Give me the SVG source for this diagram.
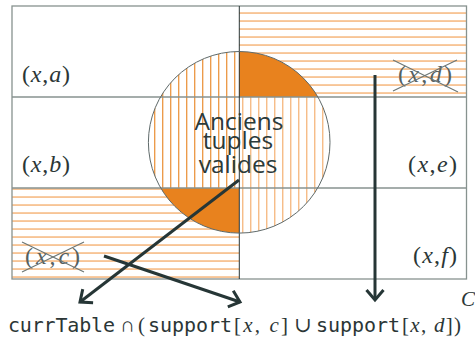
<svg xmlns="http://www.w3.org/2000/svg" width="475" height="338" viewBox="0 0 475 338">
<style>
.cell{fill:#ffffff;stroke:none}
.grid{fill:none;stroke:#87928f;stroke-width:1.3}
.lbl{font-family:"Liberation Serif","DejaVu Serif",serif;font-size:24px;fill:#2b3636}
.lbl .i{font-style:italic}
.gone{fill:#556060}
.cross{stroke:#6d7775;stroke-width:1.2}
.big{font-family:"Open Sans","Noto Sans",sans-serif;font-size:24.5px;fill:#2b3a3a;text-anchor:middle}
.mono{font-family:"DejaVu Sans Mono","Liberation Mono",monospace;font-size:20px;fill:#2b3636}
.math{font-family:"Liberation Serif","DejaVu Serif",serif;font-size:21px;fill:#2b3636}
.math .i{font-style:italic}
.conn{stroke:#263636;stroke-width:3;fill:none;marker-end:url(#arr)}
</style>
<defs>
<pattern id="hh" width="8" height="8" patternUnits="userSpaceOnUse"><rect x="0" y="4.3" width="8" height="1.5" fill="#f5b67c"/></pattern>
<pattern id="vd" width="8" height="8" patternUnits="userSpaceOnUse"><rect x="2.2" y="0" width="1.1" height="8" fill="#e8821e"/></pattern>
<pattern id="vl" width="8" height="8" patternUnits="userSpaceOnUse"><rect x="2.1" y="0" width="1.3" height="8" fill="#f5b67c"/></pattern>
<clipPath id="circ"><circle cx="239.2" cy="142.3" r="90.8"/></clipPath>
<marker id="arr" markerUnits="userSpaceOnUse" markerWidth="24" markerHeight="24" refX="12" refY="12" orient="auto" overflow="visible">
<path d="M2,3.5 L12,12 L2,20.5" fill="none" stroke="#263636" stroke-width="3"/>
</marker>
</defs>

<rect x="0" y="0" width="475" height="338" fill="#ffffff"/>

<g id="cell-a"><rect class="cell" x="12" y="6" width="227" height="91"/></g>
<g id="cell-b"><rect class="cell" x="12" y="97" width="227" height="91"/></g>
<g id="cell-c"><rect class="cell" x="12" y="188" width="227" height="91"/><rect x="12" y="188" width="227" height="91" fill="url(#hh)"/></g>
<g id="cell-d"><rect class="cell" x="239" y="6" width="227" height="91"/><rect x="239" y="6" width="227" height="91" fill="url(#hh)"/></g>
<g id="cell-e"><rect class="cell" x="239" y="97" width="227" height="91"/></g>
<g id="cell-f"><rect class="cell" x="239" y="188" width="227" height="91"/></g>

<g id="circle">
<g clip-path="url(#circ)">
<rect x="148" y="51" width="91" height="183" fill="#ffffff"/>
<rect x="239" y="51" width="92" height="183" fill="#ffffff"/>
<rect x="148" y="51" width="91" height="183" fill="url(#vd)"/>
<rect x="239" y="51" width="92" height="183" fill="url(#vl)"/>
<rect x="239" y="6" width="227" height="91" fill="#e8821e"/>
<rect x="12" y="188" width="227" height="91" fill="#e8821e"/>
</g>
</g>

<g id="grid">
<rect class="grid" x="12" y="6" width="454.5" height="273"/>
<line class="grid" x1="12" y1="97" x2="466.5" y2="97"/>
<line class="grid" x1="12" y1="188" x2="466.5" y2="188"/>
<line x1="239.3" y1="6" x2="239.3" y2="279" stroke="#2b3636" stroke-width="1"/>
<circle cx="239.2" cy="142.3" r="90.8" fill="none" stroke="#5f6a6a" stroke-width="1"/>
</g>

<g id="labels">
<text class="lbl" x="22" y="82" textLength="48"><tspan>(</tspan><tspan class="i">x</tspan><tspan>,</tspan><tspan class="i">a</tspan><tspan>)</tspan></text>
<text class="lbl" x="22" y="172" textLength="48"><tspan>(</tspan><tspan class="i">x</tspan><tspan>,</tspan><tspan class="i">b</tspan><tspan>)</tspan></text>
<g id="label-c">
<text class="lbl gone" x="25" y="264" textLength="55"><tspan>(</tspan><tspan class="i">x</tspan><tspan>,</tspan><tspan class="i">c</tspan><tspan>)</tspan></text>
<line class="cross" x1="22" y1="242" x2="84" y2="272"/>
<line class="cross" x1="22" y1="272" x2="84" y2="242"/>
</g>
<g id="label-d">
<text class="lbl gone" x="398" y="82" textLength="54"><tspan>(</tspan><tspan class="i">x</tspan><tspan>,</tspan><tspan class="i">d</tspan><tspan>)</tspan></text>
<line class="cross" x1="393" y1="60" x2="458" y2="92"/>
<line class="cross" x1="393" y1="91" x2="457" y2="60"/>
</g>
<text class="lbl" x="408" y="172" textLength="49"><tspan>(</tspan><tspan class="i">x</tspan><tspan>,</tspan><tspan class="i">e</tspan><tspan>)</tspan></text>
<text class="lbl" x="413" y="263" textLength="44"><tspan>(</tspan><tspan class="i">x</tspan><tspan>,</tspan><tspan class="i">f</tspan><tspan>)</tspan></text>
</g>

<g id="circle-label">
<text class="big"><tspan x="239" y="130">Anciens</tspan><tspan x="238" y="148.5">tuples</tspan><tspan x="238" y="173">valides</tspan></text>
</g>

<g id="connectors">
<line class="conn" x1="239" y1="180" x2="80" y2="302"/>
<line class="conn" x1="104" y1="256" x2="240" y2="302"/>
<line class="conn" x1="375" y1="75" x2="375" y2="300"/>
</g>

<g id="formula">
<text class="mono" x="8" y="332" textLength="107">currTable</text>
<text class="math" x="120" y="332">∩</text>
<text class="math" x="138" y="332">(</text>
<text class="mono" x="148" y="332" textLength="84">support</text>
<text class="math" x="234" y="332" textLength="54">[<tspan class="i">x</tspan>, <tspan class="i">c</tspan>]</text>
<text class="math" x="294" y="332">∪</text>
<text class="mono" x="316" y="332" textLength="84">support</text>
<text class="math" x="402" y="332" textLength="59">[<tspan class="i">x</tspan>, <tspan class="i">d</tspan>])</text>
<text class="math" x="461" y="306" font-size="14" font-style="italic">C</text>
</g>
</svg>
